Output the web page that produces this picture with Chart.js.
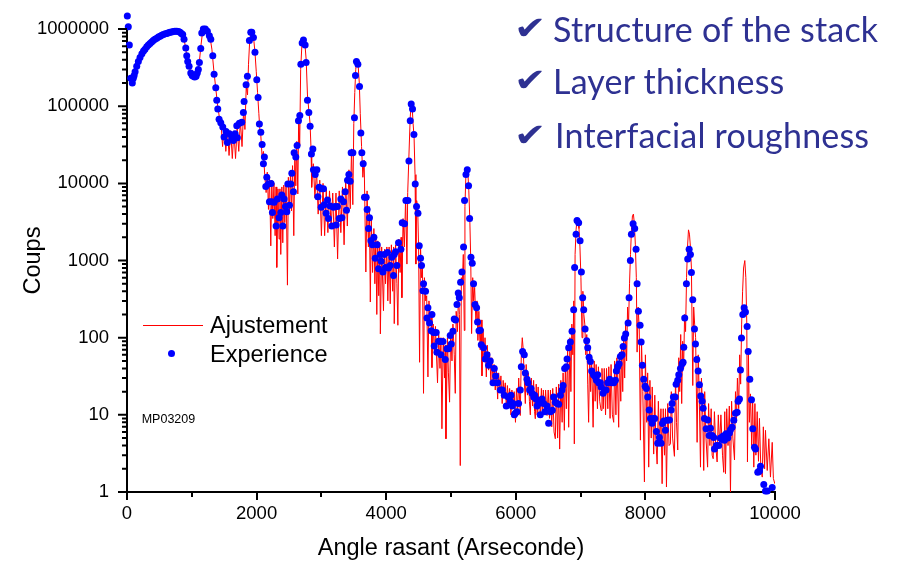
<!DOCTYPE html>
<html><head><meta charset="utf-8">
<script src="https://cdn.jsdelivr.net/npm/chart.js@4.4.1/dist/chart.umd.min.js"></script>
<style>
html,body{margin:0;padding:0;background:#fff;}
#wrap{position:relative;width:901px;height:563px;overflow:hidden;background:#fff;}
canvas{position:absolute;left:0;top:0;}
.t{position:absolute;white-space:nowrap;line-height:1;}
.lg{font-family:"Liberation Sans",Arial,sans-serif;font-size:23.5px;color:#000;}
.mp{font-family:"Liberation Sans",Arial,sans-serif;font-size:12.5px;color:#000;}
.chk{font-family:Lato,"Open Sans",sans-serif;font-size:34px;color:#2e3192;letter-spacing:0.2px;}
.cm{font-family:"DejaVu Sans",sans-serif;font-size:32px;color:#2e3192;transform:scaleX(1.2);transform-origin:left top;}
</style></head>
<body><div id="wrap"><canvas id="c" width="901" height="563"></canvas>
<div style="position:absolute;left:143px;top:325px;width:60px;height:1px;background:#ff0000"></div>
<div style="position:absolute;left:168.2px;top:349.8px;width:7px;height:7px;border-radius:50%;background:#0000ff"></div>
<div class="t lg" style="left:210px;top:313.5px">Ajustement</div>
<div class="t lg" style="left:210px;top:342.5px">Experience</div>
<div class="t mp" style="left:141.7px;top:412.9px">MP03209</div>
<div class="t cm" style="left:514px;top:12.1px">✔</div>
<div class="t chk" style="left:553px;top:11.8px">Structure of the stack</div>
<div class="t cm" style="left:514px;top:64.1px">✔</div>
<div class="t chk" style="left:553px;top:64.3px">Layer thickness</div>
<div class="t cm" style="left:514px;top:119.1px">✔</div>
<div class="t chk" style="left:555px;top:118.1px">Interfacial roughness</div>
</div>
<script>
const xTicks = [0, 2000, 4000, 6000, 8000, 10000];
const xMinorTicks = [1000, 3000, 5000, 7000, 9000];
const yTicks = [1, 10, 100, 1000, 10000, 100000, 1000000];
const yTickLabels = ["1", "10", "100", "1000", "10000", "100000", "1000000"];
const xTitle = "Angle rasant (Arseconde)";
const yTitle = "Coups";

// Ajustement (fit) : [angle, coups]
const ajustement = [
[690,1050000],[740,1030000],[790,1000000],[840,930000],[870,830000],[900,600000],[930,420000],[960,320000],[1000,260000],[1040,240000],[1080,260000],[1110,330000],[1140,600000],[1165,900000],[1190,1000000],[1220,1000000],[1250,950000],[1280,800000],[1310,550000],[1340,290000],[1370,170000],[1400,100000],[1430,68000],
[1450,62000],[1475,30000],[1500,55000],[1525,26000],[1550,50000],[1575,23000],[1600,48000],[1625,21000],[1650,48000],[1675,21000],[1700,52000],[1725,26000],[1750,65000],[1775,30000],[1800,90000],[1820,50000],[1840,180000],[1860,140000],[1875,350000],[1895,750000],[1915,930000],[1935,900000],[1955,750000],[1975,500000],[1995,280000],[2015,150000],[2035,80000],[2050,50000],
[2065,42000],[2085,22000],[2105,26000],[2125,13000],[2147,7600],[2165,14000],[2183,4600],[2200,12000],[2219,1550],[2235,11000],[2250,3500],[2268,10000],[2286,2100],[2300,9000],[2311,815],[2330,8500],[2347,1900],[2360,8500],[2373,1200],[2390,9000],[2404,1700],[2420,9500],[2435,3100],[2455,10500],[2476,480],[2490,12000],[2507,4400],[2522,14000],[2538,4400],[2555,17000],[2574,2100],[2590,25000],[2605,9300],[2620,35000],[2636,7300],[2650,80000],[2665,31000],[2680,300000],[2700,650000],[2720,750000],[2745,650000],[2765,400000],[2785,140000],[2805,90000],[2825,60000],[2840,28000],
[2850,8900],[2875,18000],[2900,6500],[2925,15000],[2950,4000],[2975,11000],[3000,2100],[3025,10000],[3050,2100],[3075,8500],[3100,2300],[3125,8000],[3150,2600],[3175,7500],[3200,1500],[3225,7500],[3250,1050],[3275,8000],[3300,2300],[3325,9000],[3350,1600],[3375,11000],[3400,2800],[3425,15000],[3445,4700],[3465,28000],[3485,5300],[3500,60000],[3515,150000],[3530,300000],[3545,400000],[3565,360000],[3585,200000],[3600,80000],
[3620,30000],[3640,12000],[3660,20000],[3686,710],[3705,8000],[3725,1500],[3740,5000],[3755,290],[3770,3500],[3790,700],[3810,2600],[3825,500],[3840,2000],[3855,200],[3870,1800],[3885,350],[3900,1600],[3910,112],[3930,1500],[3958,224],[3975,1400],[3990,500],[4010,1500],[4025,300],[4045,1500],[4062,275],[4080,1600],[4100,400],[4115,1500],[4124,152],[4145,1600],[4165,500],[4180,145],[4195,1900],[4215,700],[4230,2000],[4242,330],[4260,3500],[4280,1500],[4300,6500],[4320,900],[4332,7600],[4350,22000],[4370,70000],[4385,110000],[4400,100000],[4415,60000],[4430,40000],[4445,13000],[4458,900],[4470,6000],[4485,5000],[4500,1500],[4515,48],[4530,1500],[4545,600],[4560,800],[4576,19],[4590,600],[4610,300],[4625,350],[4644,31],[4660,300],[4680,150],[4695,200],[4706,41],[4725,150],[4745,60],[4760,140],[4792,26],[4810,110],[4830,40],[4845,100],[4860,6.6],[4880,100],[4900,30],[4911,80],[4922,4.9],[4945,100],[4960,35],[4978,14.6],[4995,130],[5015,50],[5030,150],[5050,60],[5066,19],[5080,220],[5100,120],[5115,350],[5130,200],[5143,2.2],[5160,600],[5175,500],[5190,1200],[5205,124],[5215,5000],[5230,13000],[5245,16000],[5260,14000],[5275,8000],[5290,3500],[5305,1000],[5318,113],
[5335,600],[5350,300],[5365,450],[5385,150],[5401,300],[5415,92],[5430,220],[5450,70],[5465,170],[5478,32],[5495,130],[5510,50],[5525,100],[5545,31],[5560,80],[5580,38],[5595,65],[5615,28],[5630,55],[5650,25],[5665,45],[5683,21],[5700,40],[5720,16],[5735,35],[5755,22],[5770,32],[5790,14],[5805,28],[5820,19],[5838,26],[5855,12],[5870,24],[5890,15],[5905,22],[5925,10],[5940,21],[5960,12],[5975,20],[5995,8],[6010,22],[6030,12],[6045,30],[6069,9.8],[6085,60],[6100,100],[6115,70],[6130,30],[6147,14],[6160,45],[6180,18],[6195,35],[6210,15],[6224,10],[6240,30],[6260,13],[6275,28],[6290,11],[6301,8.9],[6315,25],[6330,10],[6345,23],[6360,11],[6378,9.3],[6395,22],[6410,10],[6425,21],[6445,10],[6460,21],[6482,9.8],[6500,21],[6520,9],[6535,21],[6555,7],[6570,22],[6590,6],[6610,4.9],[6625,23],[6645,5],[6660,25],[6677,3.6],[6695,28],[6715,8],[6730,35],[6749,6.3],[6765,45],[6780,12],[6800,70],[6816,6.9],[6835,100],[6850,20],[6865,150],[6880,60],[6895,300],[6903,4.2],[6915,1200],[6930,2500],[6945,3400],[6960,3300],[6975,2600],[6990,1500],[7005,600],[7022,100],[7035,400],[7050,200],[7065,150],[7080,60],[7095,110],[7110,25],[7124,8],[7140,70],[7155,20],[7170,55],[7193,6.9],[7210,50],[7225,15],[7240,45],[7260,12],[7275,42],[7295,15],[7316,11.4],[7330,40],[7350,12],[7365,40],[7385,10],[7400,40],[7420,12],[7435,42],[7455,9],[7470,45],[7490,10],[7511,8],[7525,50],[7545,10],[7560,55],[7588,6.9],[7600,65],[7620,15],[7635,80],[7650,20],[7665,110],[7680,30],[7695,150],[7710,50],[7725,250],[7740,150],[7755,500],[7770,1200],[7785,2500],[7800,3800],[7815,4000],[7830,3000],[7845,1600],[7860,600],[7872,65],[7888,250],[7905,130],[7923,4.7],[7940,90],[7960,20],[7985,1.35],[8000,60],[8020,8],[8035,35],[8051,2.1],[8070,28],[8090,5],[8105,23],[8128,3.1],[8145,18],[8160,5],[8181,2.3],[8200,15],[8220,4],[8240,12],[8258,1.28],[8275,12],[8295,3],[8310,12],[8325,1.16],[8345,14],[8365,4],[8386,4.2],[8400,20],[8420,5],[8448,2.9],[8465,30],[8480,8],[8499,3.5],[8515,55],[8530,20],[8545,110],[8560,14],[8575,90],[8590,40],[8605,200],[8620,120],[8635,600],[8650,1500],[8665,2500],[8680,2200],[8695,1500],[8710,800],[8731,24],[8745,250],[8760,150],[8775,100],[8798,4.4],[8815,60],[8830,20],[8850,2.1],[8865,30],[8885,10],[8900,1.9],[8915,20],[8935,5],[8960,2.1],[8975,14],[8995,4],[9015,12],[9030,3],[9046,2.7],[9065,11],[9085,4],[9107,2.45],[9125,10],[9145,4],[9165,10],[9190,3],[9209,1.8],[9225,11],[9236,1.73],[9255,12],[9275,4],[9295,13],[9313,1.0],[9330,15],[9350,5],[9375,2.6],[9390,20],[9405,8],[9420,30],[9440,12],[9455,60],[9470,25],[9485,150],[9500,400],[9515,800],[9534,1000],[9550,600],[9565,150],[9575,2.45],[9590,60],[9605,8],[9621,18.7],[9640,4],[9655,17],[9673,2.1],[9690,14],[9705,3],[9725,11],[9745,2.5],[9760,9],[9780,2.2],[9803,1.56],[9820,7],[9840,2],[9853,6.3],[9880,1.9],[9905,4.9],[9930,1.56],[9957,4.4],[9975,1.5],[9997,1.28]
];

// Experience (measured) : [angle, coups]
const experience = [
[5,1480000],[20,1070000],[36,620000],[57,230000],[82,200000],[97,230000],[110,250000],[125,280000],[150,330000],[175,380000],[201,430000],[230,480000],[255,520000],[278,550000],[305,590000],[330,620000],[355,650000],[380,680000],[405,710000],[430,740000],[459,760000],[485,790000],[510,810000],[535,830000],[561,850000],[590,870000],[615,880000],[640,900000],[664,910000],[690,920000],[715,930000],[740,940000],[768,940000],[795,930000],[819,910000],[840,880000],[860,850000],[880,740000],[907,570000],[922,450000],[937,380000],[958,330000],[984,270000],[1005,250000],[1024,245000],[1045,240000],[1066,245000],[1085,270000],[1101,300000],[1117,370000],[1138,560000],[1154,890000],[1178,1000000],[1209,1000000],[1240,940000],[1271,820000],[1293,740000],[1324,450000],[1344,260000],[1370,174000],[1385,120000],[1401,92000],[1421,68000],[1447,61000],[1478,54000],[1498,40000],[1529,47000],[1549,34000],[1580,44000],[1617,39000],[1642,36000],[1668,44000],[1694,56000],[1703,39000],[1734,60000],[1771,62000],[1796,83000],[1807,115000],[1838,190000],[1858,245000],[1889,710000],[1910,910000],[1926,910000],[1951,780000],[1975,500000],[2003,220000],[2023,130000],[2043,59000],[2065,46000],[2085,32000],[2105,18000],[2120,22000],[2142,9100],[2157,12000],[2182,9800],[2198,5800],[2224,10000],[2235,5800],[2244,4200],[2270,5700],[2301,2800],[2321,6300],[2347,3600],[2374,4200],[2389,7100],[2405,2800],[2425,6300],[2445,5000],[2466,4300],[2482,9800],[2507,5200],[2528,9800],[2544,13500],[2568,7800],[2579,25000],[2605,22000],[2625,31000],[2646,65000],[2667,76000],[2683,350000],[2703,660000],[2723,720000],[2749,620000],[2764,370000],[2785,120000],[2806,83000],[2826,55000],[2846,24000],[2868,28000],[2877,15000],[2904,13000],[2930,15000],[2945,6700],[2965,8900],[2996,4900],[3001,8500],[3032,8500],[3042,5300],[3073,4100],[3094,6100],[3109,3500],[3135,5100],[3161,2800],[3186,4900],[3212,5000],[3228,2900],[3248,5000],[3274,3500],[3300,6300],[3316,3600],[3341,5800],[3367,7800],[3387,4500],[3403,11000],[3424,13000],[3444,10700],[3459,25000],[3486,25000],[3510,71000],[3526,250000],[3541,380000],[3563,350000],[3588,180000],[3609,45000],[3624,25000],[3645,18000],[3665,6600],[3691,6600],[3706,4600],[3727,2600],[3742,3600],[3764,1800],[3788,1600],[3810,2000],[3830,1070],[3861,1600],[3881,780],[3907,1200],[3923,980],[3949,710],[3969,1200],[3989,815],[4020,1270],[4035,800],[4062,860],[4088,1100],[4113,640],[4124,1200],[4144,1300],[4165,860],[4190,1700],[4227,1400],[4247,3100],[4283,3000],[4304,6000],[4335,6000],[4351,19500],[4371,65000],[4386,107000],[4406,92000],[4428,43000],[4448,9800],[4468,5000],[4490,4100],[4510,1560],[4530,1070],[4545,860],[4567,405],[4576,500],[4607,400],[4629,180],[4644,245],[4669,155],[4695,123],[4706,200],[4731,117],[4741,78],[4772,117],[4783,65],[4808,90],[4834,89],[4845,60],[4876,89],[4911,52],[4937,72],[4962,72],[4988,107],[5004,83],[5030,121],[5050,175],[5071,170],[5092,270],[5112,380],[5128,330],[5148,525],[5169,710],[5194,1500],[5209,6000],[5231,13000],[5251,15000],[5271,9300],[5287,3500],[5308,1100],[5328,920],[5348,500],[5370,270],[5395,245],[5410,160],[5432,123],[5452,125],[5467,81],[5503,74],[5529,53],[5555,60],[5580,44],[5606,50],[5648,26],[5668,40],[5688,32],[5719,26],[5761,21],[5792,21],[5822,18],[5853,13],[5884,17],[5915,15],[5926,18],[5946,13],[5957,14],[5977,10],[5992,10.5],[6018,11],[6043,14],[6069,21],[6085,42],[6105,66],[6131,60],[6147,35],[6173,29],[6188,26],[6213,21],[6235,22],[6250,19],[6276,17],[6291,18],[6312,16],[6328,13],[6352,14],[6378,10],[6405,16],[6430,14],[6451,11],[6482,13],[6507,7.8],[6533,11],[6564,11.5],[6584,17],[6610,14.6],[6636,14],[6661,13.7],[6687,18],[6713,21],[6729,24],[6754,40],[6780,42],[6791,53],[6816,74],[6842,88],[6868,121],[6893,230],[6908,815],[6930,2200],[6945,3300],[6970,3100],[6992,1800],[7012,710],[7032,330],[7048,230],[7069,130],[7094,91],[7110,74],[7131,56],[7151,49],[7171,37],[7198,33],[7228,31],[7244,28],[7264,33],[7279,26],[7305,26],[7316,23],[7347,19],[7372,21],[7393,21],[7418,26],[7449,29],[7480,26],[7511,26],[7537,28],[7552,37],[7572,42],[7594,46],[7614,57],[7640,60],[7656,77],[7676,99],[7696,112],[7733,155],[7748,330],[7768,1000],[7784,2200],[7810,3000],[7835,2600],[7856,1400],[7872,500],[7892,220],[7918,145],[7934,88],[7954,44],[7974,29],[7996,23.5],[8016,22],[8036,17],[8058,11.6],[8078,9],[8104,7.8],[8128,9],[8144,9],[8170,6.1],[8190,4.3],[8216,5.1],[8242,4.3],[8263,7.7],[8283,8.3],[8309,6.3],[8335,8.5],[8371,8.6],[8397,11.6],[8412,14],[8432,17],[8459,17],[8474,25],[8499,28],[8515,33],[8541,40],[8567,46],[8582,48],[8592,75],[8607,180],[8633,500],[8653,1050],[8675,1400],[8695,1200],[8710,700],[8731,310],[8757,130],[8773,83],[8793,52],[8814,37],[8834,24.5],[8854,17.5],[8876,15],[8891,12.2],[8911,9],[8937,6.6],[8962,8.6],[8984,5.4],[9004,6.7],[9030,5.4],[9055,5.1],[9066,3.6],[9097,4],[9132,4],[9158,5],[9184,4.8],[9200,5.3],[9220,4.7],[9246,5.7],[9271,5],[9297,5.8],[9313,6.4],[9339,6.9],[9364,8.5],[9390,10.5],[9416,10.8],[9431,15],[9452,16],[9467,38],[9483,99],[9503,200],[9524,245],[9544,215],[9570,140],[9586,66],[9611,29],[9637,15.7],[9657,6.6],[9683,3.8],[9699,3.6],[9734,1.8],[9750,1.85],[9761,1.87],[9776,2.15],[9827,1.25],[9853,1.03],[9880,1.03],[9957,1.14]
];

const FONT = "'Liberation Sans', Arial, sans-serif";

const tickPlugin = {
  id: 'customTicks',
  beforeDatasetDraw(chart, args) {
    if (args.index === 1) {
      chart._savedArea = chart.chartArea;
      const a = chart.chartArea;
      chart.chartArea = {left: a.left - 10, right: a.right + 10, top: a.top - 25, bottom: a.bottom + 10,
                         width: a.width + 20, height: a.height + 35};
    }
  },
  afterDatasetDraw(chart, args) {
    if (args.index === 1 && chart._savedArea) {
      chart.chartArea = chart._savedArea;
      chart._savedArea = null;
    }
  },
  afterDraw(chart) {
    const ctx = chart.ctx, xs = chart.scales.x, ys = chart.scales.y, a = chart.chartArea;
    ctx.save();
    ctx.strokeStyle = '#000';
    ctx.lineWidth = 2;
    ctx.beginPath();
    xTicks.forEach(v => { const p = Math.round(xs.getPixelForValue(v)); ctx.moveTo(p, a.bottom); ctx.lineTo(p, a.bottom + 8); });
    xMinorTicks.forEach(v => { const p = Math.round(xs.getPixelForValue(v)); ctx.moveTo(p, a.bottom); ctx.lineTo(p, a.bottom + 5); });
    yTicks.forEach((v, i) => {
      const p = ys.getPixelForValue(v);
      ctx.moveTo(a.left, p); ctx.lineTo(a.left - 9, p);
      if (i < yTicks.length - 1) {
        for (let k = 2; k <= 9; k++) {
          const q = ys.getPixelForValue(v * k);
          ctx.moveTo(a.left, q); ctx.lineTo(a.left - 5, q);
        }
      }
    });
    ctx.stroke();
    ctx.restore();
  }
};

new Chart(document.getElementById('c'), {
  type: 'scatter',
  data: {
    datasets: [
      {
        label: 'Ajustement',
        data: ajustement.map(p => ({x: p[0], y: p[1]})),
        showLine: true,
        borderColor: '#ff0000',
        borderWidth: 1,
        pointRadius: 0,
        pointHoverRadius: 0,
        tension: 0,
        order: 2
      },
      {
        label: 'Experience',
        data: experience.map(p => ({x: p[0], y: p[1]})),
        showLine: false,
        backgroundColor: '#0000ff',
        borderColor: '#0000ff',
        borderWidth: 0,
        pointRadius: 3.5,
        pointHoverRadius: 3.5,
        clip: false,
        order: 1
      }
    ]
  },
  options: {
    responsive: false,
    animation: false,
    devicePixelRatio: 1,
    events: [],
    layout: {padding: {left: 0, right: 126, top: 28, bottom: 0}},
    plugins: {legend: {display: false}, tooltip: {enabled: false}},
    scales: {
      x: {
        type: 'linear', min: 0, max: 10000,
        grid: {display: false, drawTicks: false},
        border: {display: true, color: '#000', width: 2},
        afterBuildTicks: s => { s.ticks = xTicks.map(v => ({value: v})); },
        afterFit: s => { s.height = 71; },
        ticks: {padding: 11, color: '#000', maxRotation: 0, autoSkip: false,
          font: {family: FONT, size: 18.5}, callback: v => String(v)},
        title: {display: true, text: xTitle, color: '#000',
          font: {family: FONT, size: 23.5}, padding: {top: 0, bottom: 0}}
      },
      y: {
        type: 'logarithmic', min: 1, max: 1000000,
        grid: {display: false, drawTicks: false},
        border: {display: true, color: '#000', width: 2},
        afterBuildTicks: s => { s.ticks = yTicks.map(v => ({value: v})); },
        afterFit: s => { s.width = 127; },
        ticks: {padding: 18, color: '#000', autoSkip: false,
          font: {family: FONT, size: 18.5}, callback: (v, i) => yTickLabels[i]},
        title: {display: true, text: yTitle, color: '#000',
          font: {family: FONT, size: 23.5}, padding: {top: 19, bottom: 0}}
      }
    }
  },
  plugins: [tickPlugin]
});
</script>
</body></html>
